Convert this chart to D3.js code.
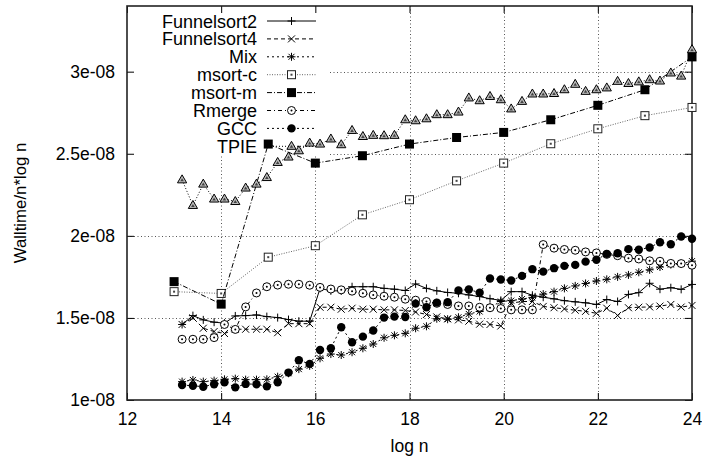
<!DOCTYPE html>
<html>
<head>
<meta charset="utf-8">
<script src="https://cdn.jsdelivr.net/npm/d3@7"></script>
<style>
  body { margin: 0; background: #fff; }
  text { font-family: "Liberation Sans", Arial, sans-serif; fill: #000; }
</style>
</head>
<body>
<div id="chart"></div>
<script>
// values are Walltime/(n*log n) in units of 1e-08
var logN = [13.17, 13.40, 13.62, 13.85, 14.07, 14.30, 14.52, 14.75, 14.97, 15.20,
  15.43, 15.65, 15.88, 16.10, 16.33, 16.55, 16.78, 17.01, 17.23, 17.46,
  17.68, 17.91, 18.13, 18.36, 18.58, 18.81, 19.04, 19.26, 19.49, 19.71,
  19.94, 20.16, 20.39, 20.61, 20.84, 21.07, 21.29, 21.52, 21.74, 21.97,
  22.19, 22.42, 22.65, 22.87, 23.10, 23.32, 23.55, 23.77, 24.00];
var logNInt = [13, 14, 15, 16, 17, 18, 19, 20, 21, 22, 23, 24];

var funnelsort2 = [1.46, 1.514, 1.488, 1.474, 1.468, 1.512, 1.514, 1.518, 1.508, 1.502,
  1.49, 1.48, 1.48, 1.68, 1.665, 1.665, 1.69, 1.69, 1.69, 1.68,
  1.675, 1.667, 1.707, 1.68, 1.665, 1.655, 1.65, 1.64, 1.63, 1.617,
  1.607, 1.66, 1.66, 1.638, 1.626, 1.616, 1.605, 1.598, 1.592, 1.582,
  1.612, 1.60, 1.643, 1.654, 1.711, 1.675, 1.684, 1.674, 1.704];
var funnelsort4 = [1.46, 1.50, 1.437, 1.417, 1.405, 1.431, 1.431, 1.431, 1.431, 1.41,
  1.465, 1.465, 1.465, 1.565, 1.565, 1.553, 1.559, 1.553, 1.553, 1.549,
  1.549, 1.545, 1.536, 1.521, 1.506, 1.495, 1.488, 1.48, 1.462, 1.46,
  1.451, 1.59, 1.60, 1.60, 1.57, 1.562, 1.555, 1.547, 1.54, 1.528,
  1.559, 1.515, 1.562, 1.565, 1.567, 1.572, 1.582, 1.566, 1.576];
var mix = [1.112, 1.122, 1.112, 1.118, 1.126, 1.13, 1.124, 1.124, 1.126, 1.142,
  1.163, 1.188, 1.208, 1.254, 1.28, 1.274, 1.291, 1.315, 1.341, 1.379,
  1.394, 1.406, 1.437, 1.449, 1.495, 1.492, 1.504, 1.524, 1.539, 1.565,
  1.60, 1.605, 1.615, 1.625, 1.645, 1.66, 1.68, 1.695, 1.71, 1.725,
  1.735, 1.75, 1.762, 1.778, 1.793, 1.81, 1.825, 1.829, 1.846];
var msortC = [1.66, 1.649, 1.87, 1.94, 2.128, 2.22, 2.335, 2.443, 2.561, 2.652, 2.732, 2.782];
var msortM = [1.721, 1.584, 2.559, 2.443, 2.488, 2.559, 2.599, 2.63, 2.707, 2.795, 2.89, 3.09];
var rmerge = [1.37, 1.37, 1.37, 1.38, 1.46, 1.43, 1.567, 1.652, 1.69, 1.70,
  1.705, 1.705, 1.699, 1.686, 1.676, 1.671, 1.663, 1.650, 1.640, 1.632,
  1.626, 1.614, 1.608, 1.60, 1.589, 1.582, 1.573, 1.573, 1.565, 1.562,
  1.557, 1.549, 1.549, 1.549, 1.947, 1.925, 1.917, 1.912, 1.902, 1.896,
  1.887, 1.879, 1.864, 1.859, 1.848, 1.845, 1.832, 1.831, 1.821];
var gcc = [1.091, 1.087, 1.081, 1.096, 1.108, 1.077, 1.098, 1.096, 1.083, 1.108,
  1.167, 1.242, 1.22, 1.305, 1.315, 1.443, 1.352, 1.386, 1.423, 1.502,
  1.508, 1.506, 1.587, 1.565, 1.593, 1.596, 1.667, 1.673, 1.654, 1.74,
  1.734, 1.728, 1.756, 1.797, 1.782, 1.803, 1.817, 1.823, 1.843, 1.854,
  1.890, 1.894, 1.919, 1.915, 1.929, 1.961, 1.949, 1.996, 1.982];
var tpie = [2.341, 2.185, 2.315, 2.224, 2.224, 2.209, 2.291, 2.315, 2.355, 2.447,
  2.48, 2.518, 2.565, 2.559, 2.59, 2.555, 2.642, 2.605, 2.612, 2.61,
  2.612, 2.707, 2.701, 2.713, 2.738, 2.738, 2.754, 2.84, 2.823, 2.849,
  2.829, 2.773, 2.819, 2.864, 2.864, 2.867, 2.89, 2.923, 2.88, 2.89,
  2.901, 2.941, 2.928, 2.938, 2.951, 2.943, 2.992, 2.973, 3.134];

var xTicks = [12, 14, 16, 18, 20, 22, 24];
var yTicks = [1, 1.5, 2, 2.5, 3];
var yTickLabels = ["1e-08", "1.5e-08", "2e-08", "2.5e-08", "3e-08"];

var width = 702, height = 462;
var plotL = 127, plotR = 692, plotT = 6, plotB = 400;
var fontSize = 17.5;

var x = d3.scaleLinear().domain([12, 24]).range([plotL, plotR]);
var y = d3.scaleLinear().domain([1, 3.4]).range([plotB, plotT]);

var svg = d3.select("#chart").append("svg")
  .attr("width", width)
  .attr("height", height);

// grid
var grid = svg.append("g").attr("class", "grid")
  .attr("stroke", "#555")
  .attr("stroke-width", 1)
  .attr("stroke-dasharray", "1,2.5");
grid.selectAll(".vgrid").data(xTicks.slice(1, -1)).enter()
  .append("line")
  .attr("x1", function(d) { return Math.round(x(d)) + 0.5; })
  .attr("x2", function(d) { return Math.round(x(d)) + 0.5; })
  .attr("y1", plotT).attr("y2", plotB);
grid.selectAll(".hgrid").data(yTicks.slice(1)).enter()
  .append("line")
  .attr("x1", plotL).attr("x2", plotR)
  .attr("y1", function(d) { return Math.round(y(d)) + 0.5; })
  .attr("y2", function(d) { return Math.round(y(d)) + 0.5; });

// legend box hides the grid underneath
var legendW = 200, legendH = 148;
svg.append("rect")
  .attr("x", plotL + 1).attr("y", plotT + 1)
  .attr("width", legendW).attr("height", legendH)
  .attr("fill", "white");

// axes, ticks inside on all four sides
var xAxis = d3.axisBottom(x).tickValues(xTicks).tickSizeInner(-7).tickSizeOuter(0).tickPadding(13);
var yAxis = d3.axisLeft(y).tickValues(yTicks).tickSizeInner(-7).tickSizeOuter(0).tickPadding(12)
  .tickFormat(function(d, i) { return yTickLabels[i]; });

svg.append("g").attr("transform", "translate(0," + plotB + ")").call(xAxis)
  .call(function(g) { g.select(".domain").remove(); })
  .selectAll("text").attr("font-size", fontSize).attr("font-family", null);
svg.append("g").attr("transform", "translate(" + plotL + ",0)").call(yAxis)
  .call(function(g) { g.select(".domain").remove(); })
  .selectAll("text").attr("font-size", fontSize).attr("font-family", null);
svg.append("g").attr("transform", "translate(0," + plotT + ")")
  .call(d3.axisTop(x).tickValues(xTicks).tickSizeInner(-7).tickSizeOuter(0).tickFormat(""))
  .call(function(g) { g.select(".domain").remove(); });
svg.append("g").attr("transform", "translate(" + plotR + ",0)")
  .call(d3.axisRight(y).tickValues(yTicks).tickSizeInner(-7).tickSizeOuter(0).tickFormat(""))
  .call(function(g) { g.select(".domain").remove(); });

svg.append("rect")
  .attr("x", plotL).attr("y", plotT)
  .attr("width", plotR - plotL).attr("height", plotB - plotT)
  .attr("fill", "none").attr("stroke", "#222").attr("stroke-width", 1.6);

svg.append("text")
  .attr("x", (plotL + plotR) / 2).attr("y", 452)
  .attr("text-anchor", "middle")
  .attr("font-size", fontSize)
  .text("log n");

svg.append("text")
  .attr("transform", "translate(26," + ((plotT + plotB) / 2) + ") rotate(-90)")
  .attr("text-anchor", "middle")
  .attr("font-size", 16.8)
  .text("Walltime/n*log n");

// marker drawing
function drawMarker(g, kind) {
  if (kind === "plus") {
    g.append("path").attr("d", "M-4,0H4M0,-4V4").attr("stroke", "#000").attr("fill", "none");
  } else if (kind === "cross") {
    g.append("path").attr("d", "M-3.5,-3.5L3.5,3.5M-3.5,3.5L3.5,-3.5").attr("stroke", "#000").attr("fill", "none");
  } else if (kind === "star") {
    g.append("path").attr("d", "M-4,0H4M0,-4V4M-3,-3L3,3M-3,3L3,-3").attr("stroke", "#000").attr("fill", "none");
  } else if (kind === "openSquare") {
    g.append("rect").attr("x", -4).attr("y", -4).attr("width", 8).attr("height", 8)
      .attr("fill", "white").attr("stroke", "#222");
    g.append("rect").attr("x", -1).attr("y", -1).attr("width", 2).attr("height", 2).attr("fill", "#444");
  } else if (kind === "fillSquare") {
    g.append("rect").attr("x", -4.5).attr("y", -4.5).attr("width", 9).attr("height", 9).attr("fill", "#000");
  } else if (kind === "openCircle") {
    g.append("circle").attr("r", 4).attr("fill", "white").attr("stroke", "#000");
    g.append("circle").attr("r", 1).attr("fill", "#000");
  } else if (kind === "fillCircle") {
    g.append("circle").attr("r", 4.2).attr("fill", "#000");
  } else if (kind === "triangle") {
    g.append("path").attr("d", "M0,-5L4.6,3L-4.6,3Z").attr("fill", "#bbb").attr("stroke", "#000");
    g.append("path").attr("d", "M0,-1.5L1.8,1.5L-1.8,1.5Z").attr("fill", "#444");
  }
}

var series = [
  { name: "Funnelsort2", xs: logN, ys: funnelsort2, dash: null, color: "#000", marker: "plus" },
  { name: "Funnelsort4", xs: logN, ys: funnelsort4, dash: "4,3", color: "#000", marker: "cross" },
  { name: "Mix", xs: logN, ys: mix, dash: "2,3", color: "#000", marker: "star" },
  { name: "msort-c", xs: logNInt, ys: msortC, dash: "1,1.5", color: "#666", marker: "openSquare" },
  { name: "msort-m", xs: logNInt, ys: msortM, dash: "5,2,1,2", color: "#000", marker: "fillSquare" },
  { name: "Rmerge", xs: logN, ys: rmerge, dash: "4,3,1,3", color: "#000", marker: "openCircle" },
  { name: "GCC", xs: logN, ys: gcc, dash: "2,3", color: "#000", marker: "fillCircle" },
  { name: "TPIE", xs: logN, ys: tpie, dash: "1,2", color: "#000", marker: "triangle" }
];

var line = d3.line()
  .x(function(d) { return x(d[0]); })
  .y(function(d) { return y(d[1]); });

var legendTextX = 257, legendLineX1 = 267, legendLineX2 = 316, legendY0 = 21, legendStep = 17.9;

series.forEach(function(s, k) {
  var pts = s.xs.map(function(v, i) { return [v, s.ys[i]]; });
  var g = svg.append("g").attr("class", "series");

  // legend entry
  var ly = legendY0 + k * legendStep;
  g.append("text")
    .attr("x", legendTextX).attr("y", ly + 6.5)
    .attr("text-anchor", "end")
    .attr("font-size", 18)
    .text(s.name);
  g.append("line")
    .attr("x1", legendLineX1).attr("x2", legendLineX2)
    .attr("y1", ly).attr("y2", ly)
    .attr("stroke", s.color).attr("stroke-width", 1)
    .attr("stroke-dasharray", s.dash);
  drawMarker(g.append("g").attr("transform", "translate(" + ((legendLineX1 + legendLineX2) / 2) + "," + ly + ")"), s.marker);

  g.append("path")
    .datum(pts)
    .attr("d", line)
    .attr("fill", "none")
    .attr("stroke", s.color)
    .attr("stroke-width", 1)
    .attr("stroke-dasharray", s.dash);

  g.selectAll(".pt").data(pts).enter()
    .append("g")
    .attr("transform", function(d) { return "translate(" + x(d[0]) + "," + y(d[1]) + ")"; })
    .each(function() { drawMarker(d3.select(this), s.marker); });
});
</script>
</body>
</html>
